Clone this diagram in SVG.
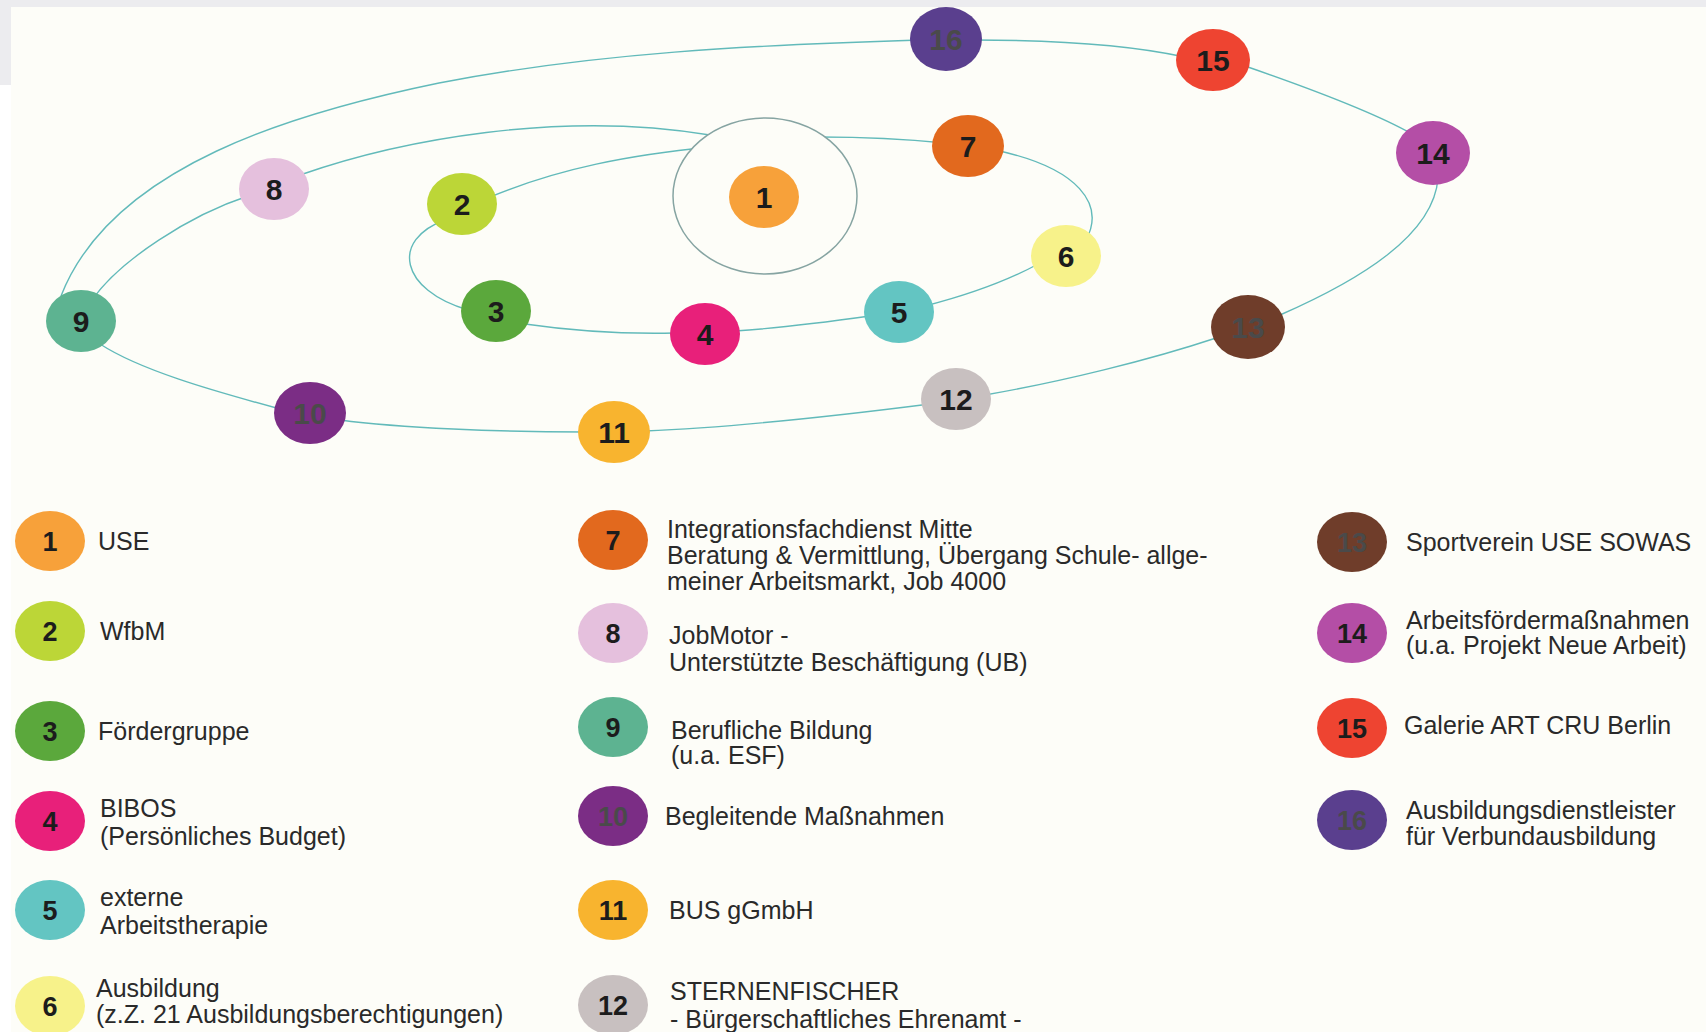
<svg xmlns="http://www.w3.org/2000/svg" width="1706" height="1032" viewBox="0 0 1706 1032">
<style>
.num{font-family:"Liberation Sans",Arial,sans-serif;font-weight:bold;font-size:30px;fill:#1c1c1c;text-anchor:middle}
.lnum{font-family:"Liberation Sans",Arial,sans-serif;font-weight:bold;font-size:27px;fill:#1c1c1c;text-anchor:middle}
.dim{fill:#4a4a4a}
.lbl{font-family:"Liberation Sans",Arial,sans-serif;font-size:25px;fill:#2a2a2a}
.orbit{fill:none;stroke:#62baba;stroke-width:1.4}
.ring{fill:#fdfdf8;stroke:#86a4a2;stroke-width:1.5}
</style>
<rect x="0" y="0" width="1706" height="1032" fill="#fdfdf8"/>
<rect x="0" y="0" width="1706" height="7" fill="#ececef"/>
<rect x="0" y="0" width="11" height="85" fill="#ececef"/>
<rect x="0" y="85" width="11" height="947" fill="#ffffff"/>

<g id="connectors">
  <!-- outer orbit -->
  <path class="orbit" d="M 61 296 C 112 165 298 112 439 83 C 594 53 752 45 920 40"/>
  <path class="orbit" d="M 975 40 C 1050 40 1130 45 1185 57"/>
  <path class="orbit" d="M 1245 66 C 1300 85 1370 110 1412 134"/>
  <path class="orbit" d="M 1438 178 C 1434 235 1360 280 1280 315"/>
  <path class="orbit" d="M 1216 338 C 1150 360 1060 382 985 395"/>
  <path class="orbit" d="M 930 404 C 820 418 720 428 645 431"/>
  <path class="orbit" d="M 585 432 C 500 432 400 428 340 420"/>
  <path class="orbit" d="M 280 409 C 210 390 140 370 100 344"/>
  <!-- middle orbit -->
  <path class="orbit" d="M 92 300 C 120 260 190 215 248 196"/>
  <path class="orbit" d="M 300 175 C 400 140 560 110 710 135"/>
  <!-- inner orbit -->
  <path class="orbit" d="M 490 197 C 560 168 630 155 710 147"/>
  <path class="orbit" d="M 820 137 C 870 137 905 139 945 143"/>
  <path class="orbit" d="M 995 150 C 1080 168 1105 205 1086 240"/>
  <path class="orbit" d="M 1040 263 C 1000 285 960 297 925 306"/>
  <path class="orbit" d="M 870 316 C 820 323 780 328 735 331"/>
  <path class="orbit" d="M 675 333 C 630 334 580 332 525 324"/>
  <path class="orbit" d="M 468 310 C 400 290 390 240 445 220"/>
</g>

<g id="node-1">
  <ellipse class="ring" cx="765" cy="196" rx="92" ry="78"/>
  <ellipse cx="764" cy="197" rx="35" ry="31" fill="#f7a13a"/>
  <text class="num" x="764" y="208">1</text>
</g>
<g id="node-2"><ellipse cx="462" cy="204" rx="35" ry="31" fill="#bcd637"/><text class="num" x="462" y="215">2</text></g>
<g id="node-3"><ellipse cx="496" cy="311" rx="35" ry="31" fill="#5ba83c"/><text class="num" x="496" y="322">3</text></g>
<g id="node-4"><ellipse cx="705" cy="334" rx="35" ry="31" fill="#e8207a"/><text class="num" x="705" y="345">4</text></g>
<g id="node-5"><ellipse cx="899" cy="312" rx="35" ry="31" fill="#63c5c2"/><text class="num" x="899" y="323">5</text></g>
<g id="node-6"><ellipse cx="1066" cy="256" rx="35" ry="31" fill="#f7f28a"/><text class="num" x="1066" y="267">6</text></g>
<g id="node-7"><ellipse cx="968" cy="146" rx="36" ry="31" fill="#e2691e"/><text class="num" x="968" y="157">7</text></g>
<g id="node-8"><ellipse cx="274" cy="189" rx="35" ry="31" fill="#e5c0dd"/><text class="num" x="274" y="200">8</text></g>
<g id="node-9"><ellipse cx="81" cy="321" rx="35" ry="31" fill="#5db391"/><text class="num" x="81" y="332">9</text></g>
<g id="node-10"><ellipse cx="310" cy="413" rx="36" ry="31" fill="#7b2d85"/><text class="num dim" x="310" y="424">10</text></g>
<g id="node-11"><ellipse cx="614" cy="432" rx="36" ry="31" fill="#f8b42f"/><text class="num" x="614" y="443">11</text></g>
<g id="node-12"><ellipse cx="956" cy="399" rx="35" ry="31" fill="#c8c0c0"/><text class="num" x="956" y="410">12</text></g>
<g id="node-13"><ellipse cx="1248" cy="327" rx="37" ry="32" fill="#6f3d2a"/><text class="num dim" x="1248" y="338">13</text></g>
<g id="node-14"><ellipse cx="1433" cy="153" rx="37" ry="32" fill="#b44ea6"/><text class="num" x="1433" y="164">14</text></g>
<g id="node-15"><ellipse cx="1213" cy="60" rx="37" ry="31" fill="#ee4431"/><text class="num" x="1213" y="71">15</text></g>
<g id="node-16"><ellipse cx="946" cy="39" rx="36" ry="32" fill="#5a3f8e"/><text class="num dim" x="946" y="50">16</text></g>

<g id="legend">
  <g id="legend-1"><ellipse cx="50" cy="541" rx="35" ry="30" fill="#f7a13a"/><text class="lnum" x="50" y="551">1</text><text class="lbl" x="98" y="550">USE</text></g>
  <g id="legend-2"><ellipse cx="50" cy="631" rx="35" ry="30" fill="#bcd637"/><text class="lnum" x="50" y="641">2</text><text class="lbl" x="100" y="640">WfbM</text></g>
  <g id="legend-3"><ellipse cx="50" cy="731" rx="35" ry="30" fill="#5ba83c"/><text class="lnum" x="50" y="741">3</text><text class="lbl" x="98" y="740">Fördergruppe</text></g>
  <g id="legend-4"><ellipse cx="50" cy="821" rx="35" ry="30" fill="#e8207a"/><text class="lnum" x="50" y="831">4</text><text class="lbl" x="100" y="817">BIBOS</text><text class="lbl" x="100" y="845">(Persönliches Budget)</text></g>
  <g id="legend-5"><ellipse cx="50" cy="910" rx="35" ry="30" fill="#63c5c2"/><text class="lnum" x="50" y="920">5</text><text class="lbl" x="100" y="906">externe</text><text class="lbl" x="100" y="934">Arbeitstherapie</text></g>
  <g id="legend-6"><ellipse cx="50" cy="1006" rx="35" ry="30" fill="#f7f28a"/><text class="lnum" x="50" y="1016">6</text><text class="lbl" x="96" y="997">Ausbildung</text><text class="lbl" x="96" y="1023">(z.Z. 21 Ausbildungsberechtigungen)</text></g>

  <g id="legend-7"><ellipse cx="613" cy="540" rx="35" ry="30" fill="#e2691e"/><text class="lnum" x="613" y="550">7</text><text class="lbl" x="667" y="538">Integrationsfachdienst Mitte</text><text class="lbl" x="667" y="564">Beratung &amp; Vermittlung, Übergang Schule- allge-</text><text class="lbl" x="667" y="590">meiner Arbeitsmarkt, Job 4000</text></g>
  <g id="legend-8"><ellipse cx="613" cy="633" rx="35" ry="30" fill="#e5c0dd"/><text class="lnum" x="613" y="643">8</text><text class="lbl" x="669" y="644">JobMotor -</text><text class="lbl" x="669" y="671">Unterstützte Beschäftigung (UB)</text></g>
  <g id="legend-9"><ellipse cx="613" cy="727" rx="35" ry="30" fill="#5db391"/><text class="lnum" x="613" y="737">9</text><text class="lbl" x="671" y="739">Berufliche Bildung</text><text class="lbl" x="671" y="764">(u.a. ESF)</text></g>
  <g id="legend-10"><ellipse cx="613" cy="816" rx="35" ry="30" fill="#7b2d85"/><text class="lnum dim" x="613" y="826">10</text><text class="lbl" x="665" y="825">Begleitende Maßnahmen</text></g>
  <g id="legend-11"><ellipse cx="613" cy="910" rx="35" ry="30" fill="#f8b42f"/><text class="lnum" x="613" y="920">11</text><text class="lbl" x="669" y="919">BUS gGmbH</text></g>
  <g id="legend-12"><ellipse cx="613" cy="1005" rx="35" ry="30" fill="#c8c0c0"/><text class="lnum" x="613" y="1015">12</text><text class="lbl" x="670" y="1000">STERNENFISCHER</text><text class="lbl" x="670" y="1028">- Bürgerschaftliches Ehrenamt -</text></g>

  <g id="legend-13"><ellipse cx="1352" cy="542" rx="35" ry="30" fill="#6f3d2a"/><text class="lnum dim" x="1352" y="552">13</text><text class="lbl" x="1406" y="551">Sportverein USE SOWAS</text></g>
  <g id="legend-14"><ellipse cx="1352" cy="633" rx="35" ry="30" fill="#b44ea6"/><text class="lnum" x="1352" y="643">14</text><text class="lbl" x="1406" y="629">Arbeitsfördermaßnahmen</text><text class="lbl" x="1406" y="654">(u.a. Projekt Neue Arbeit)</text></g>
  <g id="legend-15"><ellipse cx="1352" cy="728" rx="35" ry="30" fill="#ee4431"/><text class="lnum" x="1352" y="738">15</text><text class="lbl" x="1404" y="734">Galerie ART CRU Berlin</text></g>
  <g id="legend-16"><ellipse cx="1352" cy="820" rx="35" ry="30" fill="#5a3f8e"/><text class="lnum dim" x="1352" y="830">16</text><text class="lbl" x="1406" y="819">Ausbildungsdienstleister</text><text class="lbl" x="1406" y="845">für Verbundausbildung</text></g>
</g>
</svg>
